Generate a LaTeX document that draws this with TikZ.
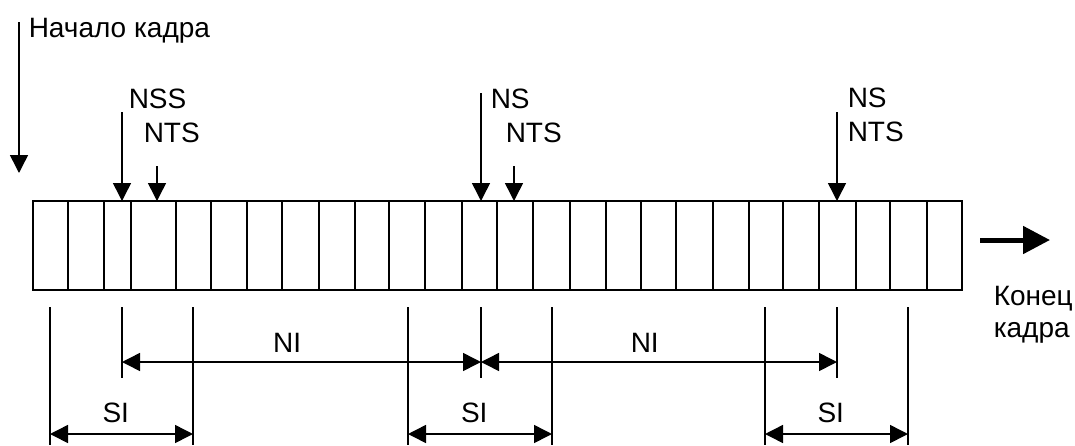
\documentclass[tikz,border=0pt]{standalone}
\usepackage{fontspec}
\setmainfont{Liberation Sans}
\usetikzlibrary{arrows.meta}

\begin{document}
\begin{tikzpicture}[x=1pt, y=-1pt, line width=1.5pt,
    lbl/.style={font=\fontsize{28}{32}\selectfont, inner sep=0, anchor=base west},
    dimlbl/.style={font=\fontsize{28}{32}\selectfont, inner sep=0, anchor=base, pos=.46},
    tip/.style={-{Triangle[length=18pt,width=18pt]}},
    dim/.style={{Triangle[length=18pt,width=18pt]}-{Triangle[length=18pt,width=18pt]}}]
    \useasboundingbox (0,0) rectangle (1075,445);
    % frame
    \node[draw, inner sep=0, outer sep=0, minimum width=929pt, minimum height=89pt] (F) at (497.5,245.5) {};
    \foreach \x in {68,104,131,176,211,247,282,319,355,389,425,462,497,533,570,606,641,676,713,749,783,819,856,890,927}
      \draw (F.north -| \x,0) -- (F.south -| \x,0);
    % labels
    \node[lbl] (S) at (28,37) {Начало кадра};
    \node[lbl] (NSS) at (128,108) {NSS};
    \node[lbl] (T1) at (143,142) {NTS};
    \node[lbl] (N2) at (490,108) {NS};
    \node[lbl] (T2) at (505,142) {NTS};
    \node[lbl] (N3) at (847,107) {NS};
    \node[lbl] (T3) at (847,141) {NTS};
    \node[lbl] (E1) at (993,305) {Конец};
    \node[lbl] (E2) at (993,337) {кадра};
    % markers
    \coordinate (s) at (19,22);
    \coordinate (t) at (19,173);
    \draw[tip] (s) -- (t);
    \coordinate (a) at (122,112);
    \coordinate (b) at (157,166);
    \coordinate (c) at (481,93);
    \coordinate (d) at (514,166);
    \coordinate (e) at (837,112);
    \draw[tip] (a) -- (a |- F.north);
    \draw[tip] (b) -- (b |- F.north);
    \draw[tip] (c) -- (c |- F.north);
    \draw[tip] (d) -- (d |- F.north);
    \draw[tip] (e) -- (e |- F.north);
    % direction
    \coordinate (r1) at (980,240);
    \coordinate (r2) at (1050,240);
    \draw[line width=5pt, -{Triangle[length=27pt,width=27pt]}] (r1) -- (r2);
    % intervals
    \foreach \n/\x/\h in {1/50/138,2/122/71,3/193/138,4/408/138,5/481/71,6/552/138,7/765/138,8/837/71,9/908/138}
      {\coordinate (x\n) at (\x,307); \draw (x\n) -- ++(0,\h);}
    \draw[dim] (x2 |- 0,362) -- node[dimlbl, yshift=10pt] {NI} (x5 |- 0,362);
    \draw[dim] (x5 |- 0,362) -- node[dimlbl, yshift=10pt] {NI} (x8 |- 0,362);
    \draw[dim] (x1 |- 0,434) -- node[dimlbl, yshift=12pt] {SI} (x3 |- 0,434);
    \draw[dim] (x4 |- 0,434) -- node[dimlbl, yshift=12pt] {SI} (x6 |- 0,434);
    \draw[dim] (x7 |- 0,434) -- node[dimlbl, yshift=12pt] {SI} (x9 |- 0,434);
\end{tikzpicture}
\end{document}
